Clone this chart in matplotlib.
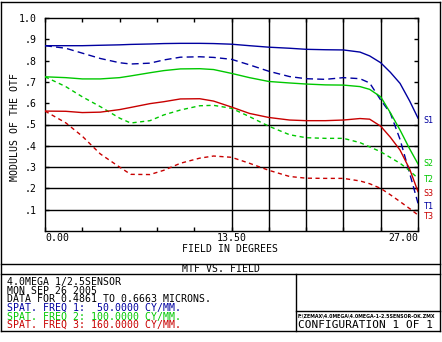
import matplotlib
matplotlib.use("Agg")
import matplotlib.pyplot as plt
from matplotlib.lines import Line2D

# ---------------- data ----------------
field = [0, 1.5, 2.7, 4.0, 5.4, 6.2, 7.6, 8.6, 9.8, 11.2, 12.2, 13.5, 14.8,
         16.2, 17.7, 18.9, 20.3, 21.6, 22.8, 23.5, 24.3, 25.0, 25.7, 26.4, 27.0]

s1 = [0.870, 0.870, 0.870, 0.872, 0.874, 0.876, 0.878, 0.880, 0.881, 0.881, 0.880, 0.877, 0.870,
      0.863, 0.858, 0.853, 0.851, 0.850, 0.840, 0.822, 0.790, 0.745, 0.693, 0.610, 0.530]
t1 = [0.870, 0.858, 0.835, 0.810, 0.790, 0.784, 0.788, 0.803, 0.816, 0.818, 0.815, 0.806, 0.780,
      0.750, 0.725, 0.715, 0.712, 0.720, 0.715, 0.695, 0.615, 0.553, 0.430, 0.270, 0.130]
s2 = [0.724, 0.720, 0.714, 0.714, 0.720, 0.728, 0.743, 0.753, 0.761, 0.762, 0.758, 0.740, 0.720,
      0.702, 0.695, 0.690, 0.686, 0.685, 0.678, 0.665, 0.630, 0.555, 0.474, 0.385, 0.315]
t2 = [0.724, 0.678, 0.630, 0.584, 0.530, 0.507, 0.518, 0.545, 0.568, 0.588, 0.590, 0.576, 0.537,
      0.492, 0.452, 0.438, 0.435, 0.435, 0.415, 0.395, 0.372, 0.345, 0.318, 0.283, 0.247]
s3 = [0.563, 0.562, 0.556, 0.558, 0.570, 0.580, 0.598, 0.607, 0.620, 0.621, 0.610, 0.582, 0.552,
      0.533, 0.521, 0.518, 0.518, 0.521, 0.528, 0.525, 0.492, 0.440, 0.380, 0.290, 0.185]
t3 = [0.563, 0.508, 0.445, 0.362, 0.300, 0.266, 0.265, 0.285, 0.318, 0.342, 0.352, 0.346, 0.318,
      0.285, 0.256, 0.248, 0.247, 0.247, 0.235, 0.222, 0.200, 0.170, 0.138, 0.105, 0.075]

series_names = ["S1", "T1", "S2", "T2", "S3", "T3"]
label_values = [0.521, 0.113, 0.315, 0.244, 0.174, 0.066]

y_ticks = [0.1, 0.2, 0.3, 0.4, 0.5, 0.6, 0.7, 0.8, 0.9, 1.0]
y_tick_labels = [".1", ".2", ".3", ".4", ".5", ".6", ".7", ".8", ".9", "1.0"]
x_ticks = [0, 2.7, 5.4, 8.1, 10.8, 13.5, 16.2, 18.9, 21.6, 24.3, 27.0]
x_tick_labels = {0.0: "0.00", 13.5: "13.50", 27.0: "27.00"}
h_grid = [0.1, 0.2, 0.3, 0.4, 0.5]
v_grid = [13.5, 16.2, 18.9, 21.6, 24.3]

info_lines = ["4.0MEGA 1/2.5SENSOR",
              "MON SEP 26 2005",
              "DATA FOR 0.4861 TO 0.6663 MICRONS."]
freq_lines = ["SPAT. FREQ 1:  50.0000 CY/MM.",
              "SPAT. FREQ 2: 100.0000 CY/MM.",
              "SPAT. FREQ 3: 160.0000 CY/MM."]

BLUE = "#0000A0"
GREEN = "#00C800"
RED = "#C80000"
colors = {"S1": BLUE, "T1": BLUE, "S2": GREEN, "T2": GREEN, "S3": RED, "T3": RED}
freq_colors = [BLUE, GREEN, RED]

MONO = "DejaVu Sans Mono"
FS = 7.1
W, H = 442, 342

fig = plt.figure(figsize=(W / 100, H / 100), dpi=100)
fig.patch.set_facecolor("white")

# overlay in pixel coordinates for frame & text
ov = fig.add_axes([0, 0, 1, 1])
ov.set_xlim(0, W)
ov.set_ylim(H, 0)
ov.axis("off")

# main axes
L, R, T, B = 45, 418, 18, 231
ax = fig.add_axes([L / W, (H - B) / H, (R - L) / W, (B - T) / H])
ax.set_xlim(0, 27)
ax.set_ylim(0, 1.0)
for sp in ax.spines.values():
    sp.set_linewidth(1.0)
    sp.set_color("black")

for y in h_grid:
    ax.axhline(y, color="black", lw=1.0, zorder=1)
for x in v_grid:
    ax.axvline(x, color="black", lw=1.0, zorder=1)

ax.set_yticks(y_ticks)
ax.set_yticklabels(y_tick_labels, fontfamily=MONO, fontsize=FS)
ax.set_xticks(x_ticks)
ax.set_xticklabels([])
ax.tick_params(axis="both", direction="in", length=3, width=1.0,
               top=True, right=True, bottom=True, left=True)
ax.tick_params(axis="y", pad=6)

for x, lab in x_tick_labels.items():
    ha = "left" if x == 0 else ("right" if x == 27.0 else "center")
    ax.text(x, -0.035, lab, transform=ax.get_xaxis_transform(), ha=ha, va="center",
            fontfamily=MONO, fontsize=FS)

data = {"S1": s1, "T1": t1, "S2": s2, "T2": t2, "S3": s3, "T3": t3}
dash_blue = (0, (5, 3))
dash_other = (0, (3, 2.5))
for name in series_names:
    ls = "-" if name.startswith("S") else (dash_blue if name == "T1" else dash_other)
    ax.plot(field, data[name], color=colors[name], lw=1.0, linestyle=ls, zorder=3)

for name, v in zip(series_names, label_values):
    ax.annotate(name, xy=(27.0, v), xytext=(4, 0), textcoords="offset points",
                ha="left", va="center", color=colors[name], fontfamily=MONO,
                fontsize=6, annotation_clip=False)

# axis titles
ov.text(230, 249, "FIELD IN DEGREES", ha="center", va="center", fontfamily=MONO, fontsize=FS)
ov.text(15, 127, "MODULUS OF THE OTF", ha="center", va="center", rotation=90,
        fontfamily=MONO, fontsize=FS)

# frame lines
def seg(x0, y0, x1, y1):
    ov.add_line(Line2D([x0, x1], [y0, y1], color="black", lw=1.0))

seg(1, 2, 440, 2)
seg(1, 2, 1, 331)
seg(440, 2, 440, 331)
seg(1, 331, 440, 331)
seg(1, 264, 440, 264)
seg(1, 274, 440, 274)
seg(296, 274, 296, 331)
seg(296, 311, 440, 311)

ov.text(221, 269.3, "MTF VS. FIELD", ha="center", va="center", fontfamily=MONO, fontsize=FS)

ys = [282, 290.7, 299.3, 308, 316.3, 324.6]
for i, t in enumerate(info_lines):
    ov.text(7, ys[i], t, ha="left", va="center", fontfamily=MONO, fontsize=FS)
for i, t in enumerate(freq_lines):
    ov.text(7, ys[3 + i], t, ha="left", va="center", fontfamily=MONO, fontsize=FS,
            color=freq_colors[i])

ov.text(298, 315.5, "F:\\ZEMAX\\4.0MEGA\\4.0MEGA-1-2.5SENSOR-OK.ZMX",
        ha="left", va="center", fontfamily="DejaVu Sans", fontweight="bold", fontsize=3.4)
ov.text(298, 325, "CONFIGURATION 1 OF 1", ha="left", va="center", fontfamily=MONO, fontsize=8.0)

fig.savefig("out.png", dpi=100, facecolor="white")
